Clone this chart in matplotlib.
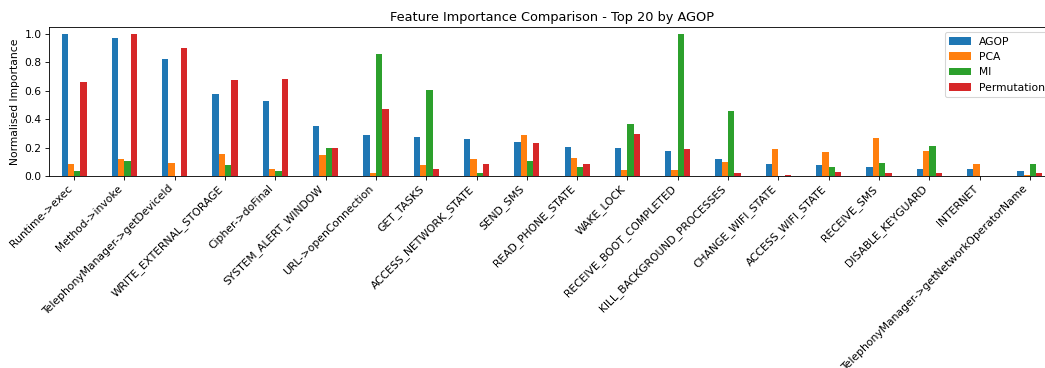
import numpy as np
import pandas as pd
import matplotlib
matplotlib.use('Agg')
import matplotlib.pyplot as plt

features = ['Runtime->exec', 'Method->invoke', 'TelephonyManager->getDeviceId',
            'WRITE_EXTERNAL_STORAGE', 'Cipher->doFinal', 'SYSTEM_ALERT_WINDOW',
            'URL->openConnection', 'GET_TASKS', 'ACCESS_NETWORK_STATE', 'SEND_SMS',
            'READ_PHONE_STATE', 'WAKE_LOCK', 'RECEIVE_BOOT_COMPLETED',
            'KILL_BACKGROUND_PROCESSES', 'CHANGE_WIFI_STATE', 'ACCESS_WIFI_STATE',
            'RECEIVE_SMS', 'DISABLE_KEYGUARD', 'INTERNET',
            'TelephonyManager->getNetworkOperatorName']
agop = [1.0, 0.969, 0.821, 0.579, 0.527, 0.353, 0.287, 0.273, 0.259, 0.240,
        0.207, 0.198, 0.179, 0.118, 0.085, 0.080, 0.061, 0.052, 0.047, 0.038]
pca = [0.082, 0.118, 0.089, 0.158, 0.047, 0.151, 0.024, 0.080, 0.118, 0.287,
       0.129, 0.045, 0.045, 0.096, 0.188, 0.172, 0.266, 0.174, 0.085, 0.005]
mi = [0.033, 0.104, 0.0, 0.080, 0.033, 0.200, 0.859, 0.607, 0.024, 0.104,
      0.066, 0.369, 1.0, 0.456, 0.0, 0.061, 0.094, 0.214, 0.0, 0.085]
perm = [0.659, 1.0, 0.899, 0.680, 0.687, 0.200, 0.473, 0.047, 0.085, 0.233,
        0.085, 0.299, 0.188, 0.024, 0.009, 0.026, 0.019, 0.024, 0.0, 0.019]

df = pd.DataFrame({'AGOP': agop, 'PCA': pca, 'MI': mi, 'Permutation': perm},
                  index=features)

# reference looks like a ~0.77x downscale of a 100 dpi figure
dpi = 77
fig = plt.figure(figsize=(1045 / dpi, 368 / dpi), dpi=dpi)
# the original was cropped on the right, so the axes run past the figure edge
ax = fig.add_axes([49 / 1045, 192 / 368, 1006 / 1045, 149 / 368])
df.plot.bar(ax=ax, rot=45)
plt.setp(ax.get_xticklabels(), ha='right')
ax.set_ylabel('Normalised Importance')
ax.set_title('Feature Importance Comparison - Top 20 by AGOP')
ax.legend(loc='upper right')
plt.savefig('out.png', dpi=dpi)
